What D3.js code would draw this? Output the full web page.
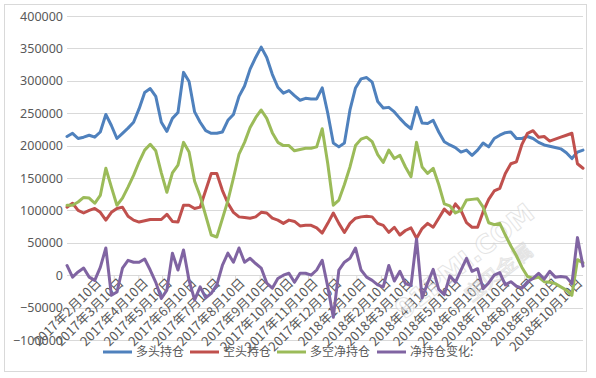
<!DOCTYPE html>
<html>
<head>
<meta charset="utf-8">
<script src="https://cdn.jsdelivr.net/npm/d3@7"></script>
<style>
  body { margin: 0; background: #fff; }
  svg { display: block; }
</style>
</head>
<body>
<div id="svg-container"></div>
<script>
// weekly figures, first report on 2017-01-10
const firstWeek = new Date(2017, 0, 10)

const longPos = [
  214000, 219000, 211000, 213000, 216000, 213000, 221000, 248000, 231000, 211000,
  219000, 227000, 236000, 257000, 282000, 288000, 276000, 236000, 222000, 242000,
  251000, 313000, 299000, 252000, 236000, 223000, 219000, 219000, 221000, 239000,
  248000, 276000, 292000, 318000, 336000, 352000, 336000, 310000, 290000, 281000,
  285000, 277000, 270000, 273000, 272000, 272000, 289000, 250000, 204000, 198000,
  204000, 255000, 289000, 303000, 305000, 298000, 268000, 258000, 259000, 252000,
  242000, 233000, 226000, 259000, 235000, 234000, 239000, 221000, 206000, 201000,
  197000, 190000, 193000, 185000, 193000, 204000, 198000, 211000, 216000, 220000,
  221000, 211000, 211000, 214000, 211000, 205000, 201000, 199000, 197000, 195000,
  189000, 180000, 190000, 193000,
]

const shortPos = [
  105000, 111000, 100000, 96000, 100000, 103000, 97000, 85000, 97000, 103000,
  105000, 91000, 85000, 82000, 84000, 86000, 86000, 86000, 94000, 83000,
  82000, 108000, 108000, 103000, 105000, 131000, 157000, 157000, 131000, 111000,
  97000, 90000, 89000, 88000, 90000, 97000, 96000, 88000, 85000, 80000,
  85000, 83000, 76000, 77000, 77000, 73000, 65000, 80000, 96000, 80000,
  66000, 80000, 88000, 90000, 91000, 90000, 80000, 77000, 66000, 74000,
  62000, 69000, 73000, 57000, 72000, 80000, 74000, 88000, 102000, 94000,
  110000, 100000, 81000, 74000, 74000, 98000, 117000, 130000, 134000, 157000,
  172000, 175000, 202000, 219000, 223000, 213000, 214000, 207000, 210000, 213000,
  216000, 219000, 172000, 165000,
]

const netPos = [
  108000, 108000, 113000, 120000, 119000, 111000, 123000, 165000, 136000, 108000,
  119000, 136000, 154000, 175000, 193000, 202000, 192000, 158000, 128000, 158000,
  170000, 205000, 190000, 145000, 122000, 92000, 62000, 59000, 87000, 115000,
  150000, 187000, 205000, 228000, 243000, 255000, 242000, 220000, 205000, 200000,
  200000, 192000, 194000, 196000, 196000, 198000, 226000, 172000, 108000, 116000,
  140000, 167000, 200000, 210000, 213000, 206000, 186000, 174000, 193000, 180000,
  185000, 167000, 152000, 205000, 167000, 157000, 165000, 140000, 110000, 107000,
  96000, 100000, 116000, 117000, 118000, 105000, 81000, 78000, 80000, 62000,
  45000, 30000, 12000, -2000, -5000, -3000, -10000, -11000, -13000, -18000,
  -23000, -31000, 24000, 19000,
]

const netChange = [
  15000, -3000, 5000, 11000, -3000, -8000, 12000, 42000, -31000, -26000,
  11000, 23000, 20000, 20000, 25000, 8000, -11000, -36000, -23000, 34000,
  8000, 39000, -8000, -38000, -18000, -35000, -28000, -15000, 15000, 34000,
  20000, 42000, 20000, 26000, 18000, 11000, -12000, -20000, -5000, 0,
  3000, -11000, 3000, 3000, 0, 8000, 23000, -18000, -65000, 8000,
  20000, 26000, 42000, 8000, -3000, -8000, -15000, -18000, 15000, -9000,
  6000, -13000, -16000, 56000, -35000, -12000, 9000, -22000, -30000, -1000,
  -11000, 8000, 26000, 6000, 10000, -21000, -12000, 0, 4000, -15000,
  -10000, -17000, -20000, -10000, -5000, 3000, -6000, 6000, -3000, -2000,
  -3000, -13000, 58000, 14000,
]

const seriesNames = ['多头持仓', '空头持仓', '多空净持仓', '净持仓变化:']
const seriesColors = ['#4F81BD', '#C0504D', '#9BBB59', '#8064A2']
const yTicks = [-100000, -50000, 0, 50000, 100000, 150000, 200000, 250000, 300000, 350000, 400000]

const width = 596
const height = 378

const weeks = longPos.map((_, i) => d3.timeDay.offset(firstWeek, i * 7))
const monthTicks = d3.timeMonth.range(new Date(2017, 0, 10), new Date(2018, 9, 11))
  .map(d => new Date(d.getFullYear(), d.getMonth(), 10))
  .filter(d => d <= weeks[weeks.length - 1])

const x = d3.scaleTime()
  .domain([weeks[0], weeks[weeks.length - 1]])
  .range([67, 583])

const y = d3.scaleLinear()
  .domain([-100000, 400000])
  .range([340, 16])

const svg = d3.select('#svg-container').append('svg')
  .attr('width', width)
  .attr('height', height)

svg.append('rect')
  .attr('x', 4.5).attr('y', 4.5)
  .attr('width', 582).attr('height', 367)
  .attr('fill', '#fff')
  .attr('stroke', '#D9D9D9')

// grid
svg.append('g')
  .selectAll('line')
  .data(yTicks)
  .join('line')
  .attr('x1', 67).attr('x2', 583)
  .attr('y1', d => Math.round(y(d)) + 0.5)
  .attr('y2', d => Math.round(y(d)) + 0.5)
  .attr('stroke', '#D9D9D9')

// y axis labels
const yAxis = svg.append('g')
  .attr('transform', 'translate(63,0)')
  .call(d3.axisLeft(y).tickValues(yTicks).tickSize(0).tickPadding(0).tickFormat(d3.format('d')))
yAxis.select('.domain').remove()
yAxis.selectAll('text')
  .attr('fill', '#595959')
  .attr('font-size', 12.5)
  .attr('font-family', '"Noto Sans", sans-serif')

// x axis on the zero line
const xAxis = svg.append('g')
  .attr('transform', `translate(0,${Math.round(y(0)) + 0.5})`)
  .call(d3.axisBottom(x).tickValues(monthTicks).tickSize(5).tickFormat(d3.timeFormat('%Y年%-m月%-d日')))
xAxis.select('.domain').attr('stroke', '#D9D9D9').attr('d', 'M67,0H583')
xAxis.selectAll('.tick line').attr('stroke', '#D9D9D9')
xAxis.selectAll('text')
  .attr('fill', '#595959')
  .attr('font-size', 13)
  .attr('font-family', '"Noto Sans CJK SC", sans-serif')
  .attr('text-anchor', 'end')
  .attr('dy', '0.35em')
  .attr('transform', 'translate(7,5) rotate(-45)')
  .attr('y', 0)
  .attr('x', 0)

// watermark
const wm = svg.append('g')
  .attr('transform', 'translate(470,268) rotate(-38)')
  .attr('opacity', 0.55)
wm.append('text')
  .attr('text-anchor', 'middle')
  .attr('font-size', 26)
  .attr('font-weight', 'bold')
  .attr('font-family', '"DejaVu Sans", sans-serif')
  .attr('fill', '#fff')
  .attr('stroke', '#cfcfcf')
  .attr('stroke-width', 1)
  .text('91PMI.COM')
wm.append('text')
  .attr('text-anchor', 'middle')
  .attr('y', 28)
  .attr('x', 20)
  .attr('font-size', 20)
  .attr('font-family', '"Noto Sans CJK SC", sans-serif')
  .attr('fill', '#fff')
  .attr('stroke', '#cfcfcf')
  .attr('stroke-width', 1)
  .text('宝贝金属')

// lines
const series = [longPos, shortPos, netPos, netChange]
const line = d3.line()
  .x((d, i) => x(weeks[i]))
  .y(d => y(d))

svg.append('g')
  .selectAll('path')
  .data(series)
  .join('path')
  .attr('d', line)
  .attr('fill', 'none')
  .attr('stroke', (d, i) => seriesColors[i])
  .attr('stroke-width', 3)
  .attr('stroke-linejoin', 'round')
  .attr('stroke-linecap', 'round')

// legend
const legendX = [103, 190, 277, 377]
const legend = svg.append('g')
  .selectAll('g')
  .data(seriesNames)
  .join('g')
  .attr('transform', (d, i) => `translate(${legendX[i]},352)`)

legend.append('line')
  .attr('x1', 0).attr('x2', 29)
  .attr('stroke', (d, i) => seriesColors[i])
  .attr('stroke-width', 3)

legend.append('text')
  .attr('x', 33)
  .attr('dy', '0.35em')
  .attr('fill', '#595959')
  .attr('font-size', 12)
  .attr('font-family', '"Noto Sans CJK SC", sans-serif')
  .text(d => d)
</script>
</body>
</html>
